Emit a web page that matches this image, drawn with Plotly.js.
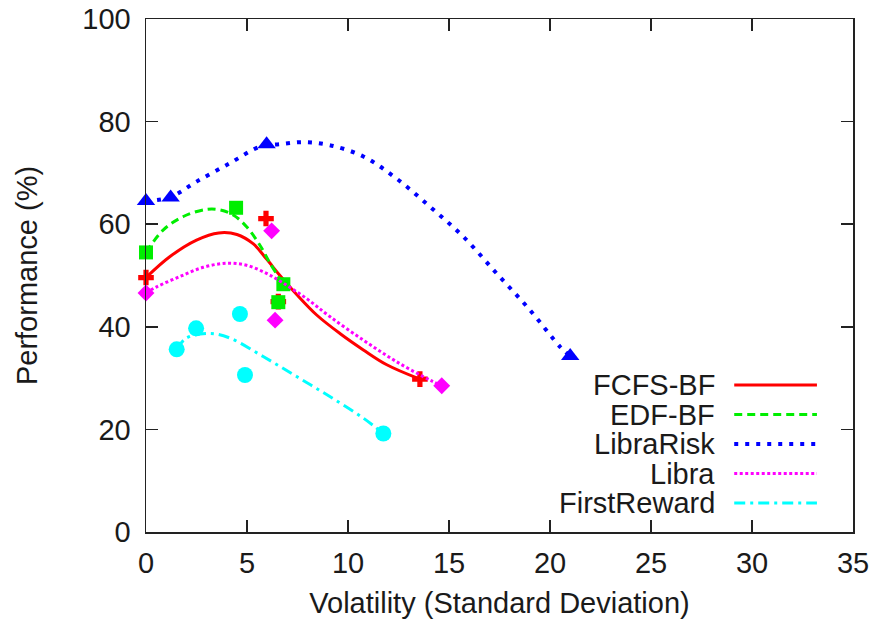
<!DOCTYPE html>
<html>
<head>
<meta charset="utf-8">
<script src="https://cdn.plot.ly/plotly-3.0.1.min.js"></script>
<style>
  html, body { margin: 0; padding: 0; background: #fff; }
  #chart { width: 875px; height: 620px; }
</style>
</head>
<body>
<div id="chart"></div>
<script>
// ---- measured points ----
const fcfsX = [0, 5.94, 6.55, 13.56];
const fcfsY = [49.6, 61.1, 44.9, 29.8];
const edfX = [0, 4.46, 6.8, 6.55];
const edfY = [54.5, 63.2, 48.3, 44.8];
const libraRiskX = [0, 1.22, 5.97, 21.0];
const libraRiskY = [64.5, 65.2, 75.6, 34.3];
const libraX = [0, 6.22, 6.39, 14.64];
const libraY = [46.6, 58.7, 41.3, 28.5];
const firstRewardX = [1.52, 2.48, 4.65, 4.9, 11.75];
const firstRewardY = [35.6, 39.7, 42.5, 30.6, 19.2];

// ---- smoothed curves ----
const fcfsCurveX = [0, 1.19, 2.5, 3.6, 4.5, 5.3, 5.97, 6.63, 7.46, 8.45, 9.6, 10.76, 11.92, 13.56];
const fcfsCurveY = [49.6, 53.7, 56.9, 58.3, 58.0, 56.2, 53.2, 50.0, 46.3, 42.3, 38.7, 35.5, 32.6, 29.8];
const edfCurveX = [0, 0.86, 1.85, 3.0, 3.66, 4.32, 4.98, 5.64, 6.14, 6.8];
const edfCurveY = [54.5, 58.9, 61.5, 62.9, 62.8, 61.8, 59.5, 55.9, 52.4, 48.3];
const libraRiskCurveX = [0, 1.22, 2.5, 4.16, 5.64, 6.63, 7.79, 9.1, 10.76, 12.4, 14.06, 15.7, 17.36, 19.0, 20.5, 21.0];
const libraRiskCurveY = [64.5, 65.3, 68.3, 71.9, 75.1, 75.6, 76.0, 75.4, 73.2, 68.9, 63.4, 57.6, 50.4, 43.3, 36.1, 34.3];
const libraCurveX = [0, 0.53, 1.68, 2.84, 4.0, 4.98, 5.97, 6.8, 7.95, 9.1, 10.76, 12.4, 14.06, 14.64];
const libraCurveY = [46.6, 47.8, 49.8, 51.6, 52.4, 52.0, 50.4, 48.5, 45.5, 42.0, 37.4, 33.2, 29.6, 28.5];
const firstRewardCurveX = [1.52, 2.0, 3.17, 4.16, 5.8, 7.46, 9.1, 10.76, 11.75];
const firstRewardCurveY = [35.6, 37.8, 38.7, 37.8, 34.2, 30.3, 26.4, 22.2, 19.2];

const seriesNames = ["FCFS-BF", "EDF-BF", "LibraRisk", "Libra", "FirstReward"];
const xTicks = [0, 5, 10, 15, 20, 25, 30, 35];
const yTicks = [0, 20, 40, 60, 80, 100];

// ---- styles ----
const colors = ["#ff0000", "#00ee00", "#0000ff", "#ff00ff", "#00ffff"];
const dashes = ["solid", "8px,5px", "4px,7px", "3px,2.5px", "11px,5px,3px,5px"];
const widths = [3, 3, 4, 3, 3];
const symbols = ["cross", "square", "triangle-up", "diamond", "circle"];
const sizes = [13, 14, 16, 13, 16];

const pts = [[fcfsX, fcfsY], [edfX, edfY], [libraRiskX, libraRiskY], [libraX, libraY], [firstRewardX, firstRewardY]];
const curves = [[fcfsCurveX, fcfsCurveY], [edfCurveX, edfCurveY], [libraRiskCurveX, libraRiskCurveY],
                [libraCurveX, libraCurveY], [firstRewardCurveX, firstRewardCurveY]];

const traces = [];
for (let i = 0; i < seriesNames.length; i++) {
  traces.push({
    x: curves[i][0], y: curves[i][1], type: "scatter", mode: "lines",
    name: seriesNames[i], showlegend: false, cliponaxis: false,
    line: { color: colors[i], width: widths[i], dash: dashes[i], shape: "spline", smoothing: 1 },
    hoverinfo: "skip"
  });
  traces.push({
    x: pts[i][0], y: pts[i][1], type: "scatter", mode: "markers",
    name: seriesNames[i], showlegend: false, cliponaxis: false,
    marker: { color: colors[i], symbol: symbols[i], size: sizes[i], line: { width: 0 } }
  });
}

const textFont = { family: "Liberation Sans, Arial, sans-serif", size: 29, color: "#1a1a1a" };

// manual gnuplot-style legend (text, then line sample)
const legendTop = 0.2865, legendStep = 0.0575;
const annotations = [];
const shapes = [];
for (let i = 0; i < seriesNames.length; i++) {
  const yy = legendTop - i * legendStep;
  annotations.push({
    xref: "paper", yref: "paper", x: 0.807, y: yy, xanchor: "right", yanchor: "middle",
    text: seriesNames[i], showarrow: false, font: textFont
  });
  shapes.push({
    type: "line", xref: "paper", yref: "paper", x0: 0.832, x1: 0.949, y0: yy, y1: yy,
    line: { color: colors[i], width: widths[i], dash: dashes[i] }
  });
}

const layout = {
  width: 875, height: 620,
  margin: { l: 146, r: 22, t: 19, b: 88 },
  paper_bgcolor: "#ffffff", plot_bgcolor: "#ffffff",
  font: textFont,
  showlegend: false,
  xaxis: {
    range: [0, 35], tickvals: xTicks, ticktext: xTicks.map(String),
    ticks: "inside", ticklen: 12, tickwidth: 1.5, tickcolor: "#222",
    mirror: "ticks", showline: true, linecolor: "#222", linewidth: 1.5,
    showgrid: false, zeroline: false, ticklabelstandoff: 5,
    tickfont: textFont,
    title: { text: "Volatility (Standard Deviation)", font: textFont, standoff: 14 }
  },
  yaxis: {
    range: [0, 100], tickvals: yTicks, ticktext: yTicks.map(String),
    ticks: "inside", ticklen: 12, tickwidth: 1.5, tickcolor: "#222",
    mirror: "ticks", showline: true, linecolor: "#222", linewidth: 1.5,
    showgrid: false, zeroline: false, ticklabelstandoff: 8,
    tickfont: textFont,
    title: { text: "Performance (%)", font: textFont, standoff: 36 }
  },
  annotations: annotations,
  shapes: shapes
};

Plotly.newPlot("chart", traces, layout, { displayModeBar: false, staticPlot: true });
</script>
</body>
</html>
